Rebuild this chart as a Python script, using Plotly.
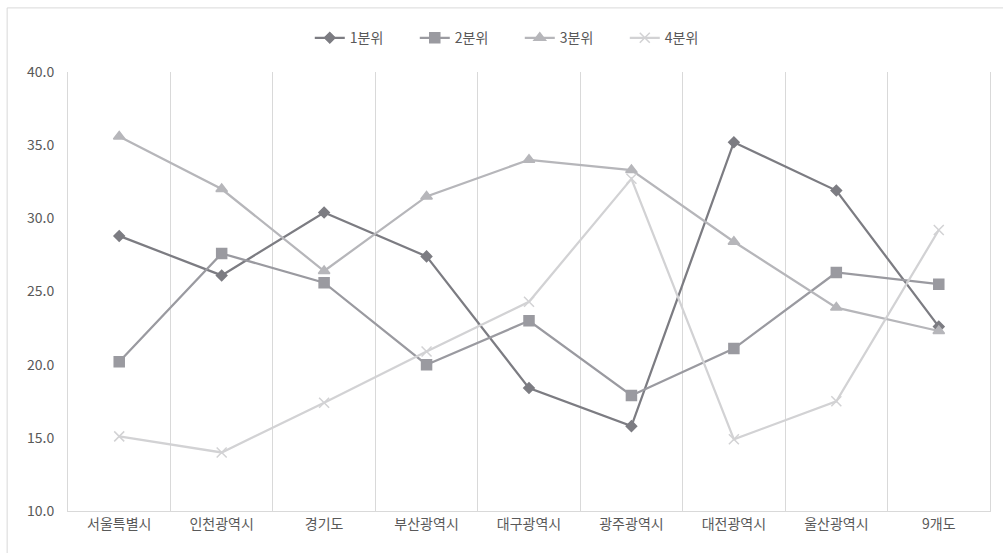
import plotly.graph_objects as go

categories = ["서울특별시", "인천광역시", "경기도", "부산광역시", "대구광역시", "광주광역시", "대전광역시", "울산광역시", "9개도"]
q1 = [28.8, 26.1, 30.4, 27.4, 18.4, 15.8, 35.2, 31.9, 22.6]
q2 = [20.2, 27.6, 25.6, 20.0, 23.0, 17.9, 21.1, 26.3, 25.5]
q3 = [35.6, 32.0, 26.4, 31.5, 34.0, 33.3, 28.4, 23.9, 22.3]
q4 = [15.1, 14.0, 17.4, 20.9, 24.3, 32.7, 14.9, 17.5, 29.2]
series_names = ["1분위", "2분위", "3분위", "4분위"]
y_ticks = [10, 15, 20, 25, 30, 35, 40]

colors = ["#7c7c82", "#9a9aa0", "#b6b6ba", "#d2d2d4"]
symbols = ["diamond", "square", "triangle-up", "x-thin"]
sizes = [8, 10, 10, 10]

fig = go.Figure()
for name, vals, c, s, sz in zip(series_names, [q1, q2, q3, q4], colors, symbols, sizes):
    fig.add_trace(go.Scatter(
        x=categories, y=vals, name=name, mode="lines+markers",
        line=dict(color=c, width=2.25),
        marker=dict(symbol=s, size=sz, color=c, line=dict(color=c, width=1.5)),
    ))

font = "Noto Sans CJK KR, Malgun Gothic, sans-serif"
fig.update_layout(
    width=1003, height=553,
    margin=dict(l=68, r=13, t=72, b=42),
    paper_bgcolor="white", plot_bgcolor="white",
    font=dict(family=font, size=14, color="#595959"),
    showlegend=True,
    legend=dict(orientation="h", x=0.49, xanchor="center", y=1.077, yanchor="middle",
                font=dict(size=14, color="#595959"), itemwidth=30, tracegroupgap=0,
                entrywidth=60, entrywidthmode="pixels"),
    xaxis=dict(type="category", range=[-0.5, 8.5], tickson="boundaries",
               showgrid=True, gridcolor="#d9d9d9", gridwidth=1,
               showline=True, linecolor="#d9d9d9", linewidth=1, mirror=False,
               ticks="", tickfont=dict(size=14, color="#595959"), zeroline=False),
    yaxis=dict(range=[10, 40], tickvals=y_ticks, ticktext=[f"{v:.1f}" for v in y_ticks],
               showgrid=False, showline=True, linecolor="#d9d9d9", linewidth=1, mirror=True,
               zeroline=False, ticks="",
               ticklabelstandoff=10, tickfont=dict(size=14, color="#595959")),
    shapes=[dict(type="rect", xref="paper", yref="paper",
                 x0=-0.066, x1=1.05, y0=-0.2, y1=1.146,
                 line=dict(color="#d9d9d9", width=1), fillcolor="rgba(0,0,0,0)", layer="below")],
)

fig.write_html("out.html")
